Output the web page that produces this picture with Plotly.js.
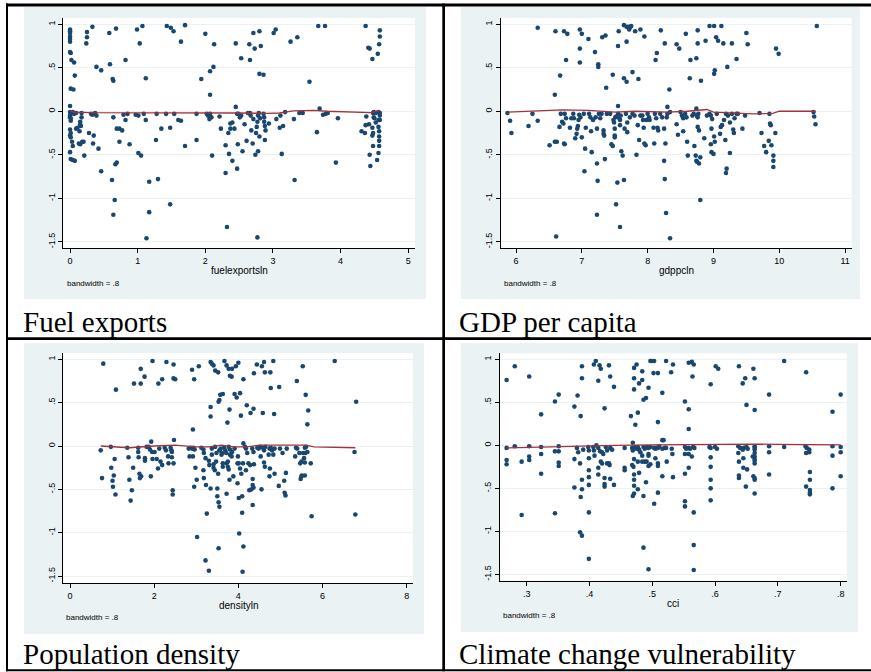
<!DOCTYPE html>
<html>
<head>
<meta charset="utf-8">
<script src="https://cdn.plot.ly/plotly-3.0.1.min.js"></script>
<style>
  html, body { margin: 0; padding: 0; background: #ffffff; }
  #chart { width: 871px; height: 672px; }
</style>
</head>
<body>
<div id="chart"></div>
<script>
// ---------- labels ----------
const captions = ["Fuel exports", "GDP per capita", "Population density", "Climate change vulnerability"];
const xVarNames = ["fuelexportsln", "gdppcln", "densityln", "cci"];
const noteText = "bandwidth = .8";

// ---------- tick labels ----------
const yTickVals = [-1.5, -1, -0.5, 0, 0.5, 1];
const yTickText = ["-1.5", "-1", "-.5", "0", ".5", "1"];
const fuelTickVals = [0, 1, 2, 3, 4, 5];
const gdpTickVals = [6, 7, 8, 9, 10, 11];
const densTickVals = [0, 2, 4, 6, 8];
const cciTickVals = [0.3, 0.4, 0.5, 0.6, 0.7, 0.8];
const cciTickText = [".3", ".4", ".5", ".6", ".7", ".8"];

// ---------- residuals vs. fuelexportsln ----------
const fuelPts = [
  [0,.94],[0,.92],[0,.90],[0,.86],[0,.83],[0,.80],[0,.68],[.01,.67],[.02,.59],[.06,.56],[.07,.41],[.01,.26],[.05,.25],[0,.06],
  [.25,.91],[.25,.85],[.24,.78],[.33,.97],[.39,.51],[.46,.47],[.58,.90],[.59,.54],[.63,.37],[.64,.35],[.68,.95],[.82,.59],[.99,.94],[1.03,.78],[1.07,.98],[1.12,.38],
  [1.43,.98],[1.49,.96],[1.53,.92],[1.64,.80],[1.70,.99],[1.94,.37],[2.0,.89],[2.07,.46],[2.07,.19],[2.12,.51],[2.13,.77],[2.45,.78],[2.53,.61],[2.65,.77],[2.66,.59],
  [2.71,.90],[2.73,.72],[2.80,.92],[2.80,.43],[2.82,.75],[2.86,.42],[3.01,.90],[3.04,.94],[3.26,.80],[3.36,.85],[3.54,.34],[3.67,.98],[3.77,.98],[4.37,.98],[4.41,.73],
  [4.43,.72],[4.47,.60],[4.55,.66],[4.57,.77],[4.58,.86],[4.58,.93],
  [0,-.01],[.01,-.03],[0,-.05],[0,-.07],[.01,-.08],[.01,-.11],[0,-.21],[.01,-.25],[0,-.28],[.01,-.30],[.03,-.35],[.04,-.40],[0,-.47],[.01,-.55],[.04,-.56],[.07,-.57],
  [.04,-.01],[.06,-.03],[.09,-.02],[.17,-.02],[.17,-.07],[.15,-.12],[.15,-.15],[.11,-.19],[.09,-.20],[.16,-.17],[.14,-.23],[.13,-.37],[.15,-.38],[.18,-.35],[.20,-.35],
  [.21,-.51],[.28,-.25],[.31,-.03],[.33,-.04],[.35,-.28],[.34,-.37],[.37,-.02],[.39,-.05],[.42,-.43],[.46,-.69],[.62,-.79],[.64,-.07],[.66,-1.02],[.64,-1.19],[.67,-.61],
  [.69,-.59],[.69,-.20],[.73,-.20],[.77,-.22],[.73,-.35],[.79,-.04],[.82,-.10],[.85,-.03],[.88,-.38],[.97,-.04],[1.01,-.05],[1.01,-.48],[1.05,-.51],[1.09,-.03],[1.12,-.10],
  [1.17,-.81],[1.17,-1.16],[1.13,-1.46],[1.27,-.33],[1.28,-.03],[1.30,-.78],[1.35,-.20],[1.42,-.03],[1.48,-.19],[1.48,-1.07],[1.54,-.03],[1.60,-.10],[1.64,-.11],[1.70,-.40],
  [1.87,-.03],[1.87,-.33],[2.02,-.03],[2.04,-.05],[2.06,-.09],[2.07,-.03],[2.09,-.07],[2.10,-.51],[2.21,-.06],[2.23,-.20],[2.30,-.39],[2.30,-.71],[2.32,-1.33],[2.34,-.25],
  [2.35,-.49],[2.37,-.14],[2.37,-.20],[2.40,-.13],[2.40,-.57],[2.43,-.20],[2.45,.05],[2.47,-.03],[2.47,-.66],[2.48,-.38],[2.49,-.03],[2.51,-.07],[2.53,-.05],[2.55,-.46],
  [2.58,-.15],[2.61,-.34],[2.63,-.02],[2.66,-.02],[2.67,-.05],[2.68,-.22],[2.70,-.37],[2.71,-.09],[2.74,-.50],[2.75,-.25],[2.76,-.18],[2.77,-.12],[2.78,-.05],[2.79,-.02],
  [2.80,-.29],[2.81,-.08],[2.78,-.46],[2.77,-1.45],[2.86,-.03],[2.87,-.07],[2.87,-.12],[2.88,-.17],[2.89,-.22],[2.88,-.33],[2.94,-.14],[3.05,-.09],[3.10,-.19],[3.11,-.05],
  [3.13,-.49],[3.15,-.17],[3.18,-.01],[3.31,-.09],[3.32,-.79],[3.39,-.02],[3.44,-.02],[3.65,-.24],[3.69,.03],[3.74,-.04],[3.78,-.03],[3.81,-.02],[3.93,-.59],[3.96,-.08],
  [4.31,-.23],[4.36,-.25],[4.38,-.06],[4.37,-.16],[4.42,-.15],[4.48,-.02],[4.49,-.01],[4.47,-.19],[4.48,-.25],[4.47,-.28],[4.48,-.40],[4.43,-.50],[4.44,-.63],[4.49,-.07],
  [4.50,-.08],[4.52,-.13],[4.52,-.02],[4.54,-.56],[4.56,-.10],[4.56,-.01],[4.56,-.18],[4.57,-.23],[4.57,-.29],[4.57,-.34],[4.57,-.40],[4.56,-.48],[4.58,-.02],[4.58,-.05],[4.58,-.10]
];
const fuelLowX = [0, 0.05, 0.3, 1, 1.5, 2, 2.5, 2.9, 3.1, 3.3, 3.6, 3.8, 4.1, 4.45, 4.58];
const fuelLowY = [0.01, -0.01, -0.015, -0.015, -0.015, -0.02, -0.02, -0.025, -0.02, 0.005, 0.01, 0.0, -0.01, -0.015, 0.01];

// ---------- residuals vs. gdppcln ----------
const gdpPts = [
  [6.33,.96],[6.6,.92],[6.73,.92],[6.78,.89],[6.76,.59],[6.67,.41],[6.59,.19],[6.97,.94],[7.0,.89],[6.97,.72],[6.97,.56],[7.1,.83],[7.2,.68],[7.25,.54],[7.25,.51],
  [7.31,.85],[7.36,.87],[7.37,.27],[7.47,.42],[7.55,.75],[7.56,.92],[7.64,.99],[7.68,.97],[7.71,.97],[7.72,.94],[7.74,.97],[7.75,.98],[7.68,.8],[7.64,.38],[7.68,.34],
  [7.77,.45],[7.81,.92],[7.86,.37],[7.89,.94],[7.95,.86],[8.12,.59],[8.14,.67],[8.2,.93],[8.26,.78],[8.33,.25],[8.3,.05],[8.44,.77],[8.48,.72],[8.58,.89],[8.65,.59],
  [8.64,.38],[8.74,.61],[8.76,.78],[8.76,.93],[8.81,.35],[8.88,.81],[8.94,.98],[9.01,.98],[9.01,.43],[9.02,.47],[9.04,.85],[9.07,.81],[9.12,.98],[9.15,.78],[9.21,.51],
  [9.28,.78],[9.35,.6],[9.5,.9],[9.52,.77],[9.95,.72],[9.99,.66],[10.57,.98],
  [5.87,-.02],[5.91,-.11],[5.93,-.25],[6.19,-.17],[6.25,-.03],[6.33,-.11],[6.51,-.39],[6.59,-.35],[6.62,-.35],[6.61,-1.44],[6.66,-.18],[6.68,-.03],[6.70,-.12],[6.72,-.14],
  [6.73,-.37],[6.74,-.38],[6.74,-.03],[6.76,-.08],[6.82,-.19],[6.84,-.08],[6.87,-.03],[6.88,-.08],[6.90,-.31],[6.92,-.26],[6.93,-.20],[6.94,-.17],[6.95,-.10],[6.96,-.04],
  [6.98,-.07],[7.00,-.30],[7.03,-.03],[7.05,-.43],[7.04,-.69],[7.06,-.19],[7.11,-.03],[7.13,-.07],[7.14,-.23],[7.15,-.47],[7.17,-.10],[7.21,-.07],[7.23,-.20],[7.23,-.60],
  [7.24,-.80],[7.23,-1.19],[7.26,-.03],[7.28,-.08],[7.30,-.03],[7.33,-.22],[7.33,-.26],[7.34,-.28],[7.35,-.55],[7.38,-.03],[7.43,-.03],[7.45,-.38],[7.47,-.40],[7.48,-.10],
  [7.49,-.13],[7.50,-.20],[7.50,-.28],[7.50,-.30],[7.51,-.07],[7.52,-.06],[7.52,-1.07],[7.54,-.82],[7.55,.06],[7.55,-.03],[7.57,-.08],[7.58,-.10],[7.59,-.05],[7.58,-1.33],
  [7.58,-.16],[7.60,-.46],[7.62,-.51],[7.64,-.79],[7.65,-.20],[7.67,-.03],[7.69,-.13],[7.69,-.24],[7.73,-.07],[7.77,-.03],[7.80,-.05],[7.83,-.50],[7.85,-.16],[7.87,-.33],
  [7.89,-.05],[7.92,-.05],[7.93,-.10],[7.94,-.19],[7.95,-.37],[7.97,-.39],[7.98,-.10],[8.00,-.03],[8.02,-.07],[8.03,-.10],[8.09,-.19],[8.10,-.37],[8.11,-.03],[8.13,-.08],
  [8.15,-.19],[8.16,-.22],[8.19,-.03],[8.22,-.07],[8.25,-.20],[8.25,-.57],[8.26,-.78],[8.27,-.37],[8.28,-1.17],[8.29,-.07],[8.30,-.03],[8.34,-1.46],[8.34,-.01],[8.44,-.15],
  [8.46,-.27],[8.50,-.01],[8.52,-.05],[8.54,-.08],[8.54,-.23],[8.57,-.03],[8.59,-.07],[8.60,-.35],[8.61,-.51],[8.68,-.05],[8.70,-.03],[8.71,-.40],[8.73,-.51],[8.74,-.57],
  [8.74,.03],[8.75,-.05],[8.76,-.07],[8.77,-.03],[8.76,-.18],[8.78,-.22],[8.75,-.58],[8.78,-.60],[8.80,-.53],[8.80,-1.02],[8.86,-.31],[8.90,-.05],[8.94,-.03],[8.96,-.05],
  [8.98,-.09],[8.97,-.20],[8.96,-.38],[8.97,-.47],[9.00,-.49],[9.01,-.29],[9.02,-.35],[9.05,-.03],[9.10,-.26],[9.11,-.18],[9.13,-.16],[9.16,-.10],[9.18,-.33],[9.19,-.03],
  [9.19,-.71],[9.20,-.66],[9.22,-.05],[9.25,-.48],[9.25,-.13],[9.28,-.03],[9.30,-.21],[9.31,-.25],[9.32,-.08],[9.35,-.03],[9.37,-.03],[9.44,-.20],[9.48,-.05],[9.70,-.02],
  [9.73,-.25],[9.77,-.40],[9.80,-.47],[9.84,-.34],[9.85,-.03],[9.86,-.14],[9.87,-.16],[9.88,-.39],[9.91,-.51],[9.91,-.57],[9.91,-.64],[9.94,-.25],[10.52,-.01],[10.53,-.06],
  [10.55,-.15]
];
const gdpLowX = [5.87, 6.3, 6.7, 7.1, 7.3, 7.5, 7.8, 8.1, 8.3, 8.6, 8.9, 9.0, 9.3, 9.6, 9.9, 10.0, 10.3, 10.55];
const gdpLowY = [-0.01, 0.0, 0.015, 0.01, 0.0, -0.01, 0.0, -0.005, -0.01, 0.0, 0.02, -0.01, -0.02, -0.03, -0.025, 0.0, 0.0, 0.0];

// ---------- residuals vs. densityln ----------
const densPts = [
  [.79,.95],[1.09,.65],[1.52,.72],[1.68,.72],[1.68,.89],[1.77,.80],[1.96,.98],[2.10,.72],[2.19,.77],[2.29,.97],[2.46,.94],[2.46,.78],[2.50,.77],[2.90,.88],[2.95,.77],
  [3.06,.92],[2.92,.19],[3.34,.97],[3.37,.95],[3.41,.93],[3.45,.87],[3.52,.85],[3.34,.45],[3.34,.34],[3.55,.53],[3.57,.59],[3.63,.60],[3.53,.51],[3.67,.98],[3.72,.93],
  [3.77,.89],[3.80,.81],[3.84,.80],[3.85,.89],[3.79,.42],[3.74,.27],[3.91,.60],[3.96,.56],[3.94,.92],[4.00,.96],[4.04,.61],[4.06,.35],[4.12,.77],[4.20,.47],[4.29,.38],
  [4.36,.43],[4.37,.84],[4.44,.94],[4.56,.92],[4.61,.97],[4.63,.85],[4.58,.38],[4.76,.85],[4.77,.67],[4.83,.98],[4.85,.37],[4.97,.68],[5.39,.75],[5.53,.92],[5.60,.59],
  [5.66,.41],[5.64,.25],[6.29,.98],[6.80,.51],
  [.73,-.05],[.76,-.37],[.97,-.01],[.98,-.25],[1.01,-.40],[1.02,-.47],[1.04,-.34],[1.06,-.15],[1.08,-.56],[1.36,-.02],[1.39,-.13],[1.41,-.39],[1.44,-.63],[1.47,-.51],
  [1.50,-.25],[1.62,-.02],[1.62,-.07],[1.63,-.13],[1.65,-.32],[1.66,-.37],[1.69,-.35],[1.78,-.14],[1.78,-.17],[1.82,-.01],[1.87,-.01],[1.92,-.35],[1.90,-.04],[1.95,-.07],
  [1.93,.05],[1.96,-.15],[2.01,-.07],[2.06,-.15],[2.09,-.26],[2.12,-.03],[2.15,-.18],[2.19,-.22],[2.25,-.02],[2.28,-.05],[2.33,-.12],[2.34,-.20],[2.39,-.02],[2.41,-.05],
  [2.42,-.07],[2.42,-.13],[2.44,-.51],[2.44,-.56],[2.47,.07],[2.46,-.20],[2.82,-.03],[2.87,-.02],[2.90,-.03],[2.93,-.02],[2.96,-.04],[2.84,-.12],[2.92,-.12],[2.95,-.47],
  [2.98,-.25],[3.01,-.39],[3.02,-1.05],[3.12,-.02],[3.17,-.04],[3.18,-.08],[3.17,-.28],[3.18,-.37],[3.22,-.14],[3.23,-.45],[3.25,-.78],[3.22,-1.32],[3.30,-1.44],[3.30,-.17],
  [3.31,-.22],[3.34,-.49],[3.37,-.03],[3.37,-.10],[3.41,-.21],[3.41,-.25],[3.44,-.28],[3.45,-.01],[3.48,-.08],[3.47,-.18],[3.50,-.49],[3.52,-.32],[3.50,-.58],[3.53,-.65],
  [3.55,-.70],[3.53,-1.18],[3.55,-.05],[3.58,-.03],[3.60,-.10],[3.61,-.08],[3.63,-.20],[3.63,-.24],[3.66,-.02],[3.69,-.05],[3.71,-.08],[3.72,-.20],[3.72,-.55],[3.75,-.18],
  [3.75,-.24],[3.77,-.27],[3.77,-.01],[3.80,-.04],[3.79,-.39],[3.80,-.10],[3.84,-.12],[3.85,-.07],[3.88,-.35],[3.91,-.03],[3.98,-.43],[3.98,-.20],[4.01,-.20],[3.99,-.12],
  [4.01,-.60],[4.02,-1.01],[4.04,-.26],[4.07,-.32],[4.09,-.58],[4.09,-.77],[4.11,-.20],[4.12,.03],[4.12,-1.16],[4.10,-1.45],[4.16,-.01],[4.18,-.03],[4.18,-.28],[4.21,-.08],
  [4.24,-.20],[4.28,-.22],[4.26,-.51],[4.31,-.50],[4.33,-.03],[4.36,-.07],[4.34,-.38],[4.34,-.45],[4.36,-.48],[4.34,-.68],[4.37,-.21],[4.45,-.02],[4.48,-.03],[4.52,-.01],
  [4.53,-.12],[4.55,-.50],[4.58,-.02],[4.61,-.05],[4.64,-.01],[4.61,-.19],[4.63,-.24],[4.72,-.10],[4.74,-.03],[4.77,-.02],[4.75,-.26],[4.74,-.35],[4.80,-.05],[4.83,-.10],
  [4.86,-.03],[4.86,-.32],[4.96,-.46],[4.99,-.03],[5.05,-.08],[5.09,-.40],[5.10,-.54],[5.12,-.57],[5.13,-.31],[5.15,-.03],[5.35,-.12],[5.37,-.02],[5.40,-.03],[5.45,-.08],
  [5.47,-.20],[5.50,-.18],[5.48,-.38],[5.50,-.35],[5.51,-.34],[5.58,-.34],[5.54,-.08],[5.59,-.08],[5.64,-.07],[5.56,-.14],[5.58,-.02],[5.61,-.01],[5.58,-.19],[5.72,-.20],
  [5.74,-.81],[6.76,-.07],[6.78,-.79]
];
const densLowX = [0.73, 1.0, 1.4, 2.0, 2.5, 3.0, 3.3, 3.6, 3.9, 4.2, 4.5, 5.0, 5.6, 5.8, 6.3, 6.78];
const densLowY = [0.0, -0.01, -0.02, 0.0, 0.01, -0.01, -0.01, 0.01, -0.01, -0.01, 0.01, 0.01, 0.01, -0.01, -0.015, -0.02];

// ---------- residuals vs. cci ----------
const cciPts = [
  [.268,.76],[.281,.92],[.304,.80],[.323,.36],[.345,.51],[.351,.59],[.376,.45],[.381,.58],[.386,.34],[.388,.92],[.388,.78],[.407,.94],[.41,.98],[.416,.93],[.418,.89],
  [.414,.75],[.424,.43],[.431,.93],[.433,.80],[.439,.68],[.466,.34],[.471,.90],[.475,.94],[.471,.78],[.471,.65],[.473,.24],[.477,.38],[.479,.72],[.484,.86],[.484,.76],
  [.486,.53],[.49,.55],[.494,.67],[.497,.98],[.499,.98],[.503,.98],[.502,.84],[.509,.84],[.509,.27],[.516,.61],[.522,.98],[.53,.85],[.533,.94],[.552,.51],[.558,.96],
  [.563,.97],[.566,.94],[.558,.42],[.558,.19],[.564,.80],[.593,.71],[.601,.92],[.605,.89],[.638,.92],[.644,.72],[.648,.78],[.65,.47],[.661,.89],[.663,.78],[.663,.41],
  [.686,.59],[.71,.98],[.745,.85],[.787,.39],[.80,.59],
  [.268,-.03],[.268,-.17],[.268,-.22],[.281,-.01],[.292,-.19],[.292,-.81],[.304,-.01],[.304,-.13],[.304,-.17],[.323,-.02],[.323,-.10],[.323,-.33],[.345,-.07],[.345,-.79],
  [.351,-.01],[.351,-.07],[.351,-.20],[.351,-.24],[.376,-.16],[.376,-.49],[.38,-.03],[.382,-.08],[.385,-.21],[.386,-.60],[.385,-1.01],[.388,-1.05],[.388,-.40],[.388,-.51],
  [.39,-.05],[.398,-.02],[.399,-.06],[.399,-.15],[.399,-.29],[.399,-.37],[.399,-.46],[.399,-.78],[.399,-1.32],[.406,-.02],[.407,-.06],[.408,-.12],[.411,0],[.414,-.03],
  [.417,-.07],[.414,-.26],[.414,-.34],[.418,-.19],[.42,-.21],[.42,-.08],[.422,-.10],[.424,-.38],[.424,-.45],[.424,-.48],[.426,-.02],[.428,-.06],[.428,-.21],[.431,-.21],
  [.432,-.23],[.433,-.03],[.433,-.39],[.436,-.05],[.439,-.46],[.456,-.03],[.456,-.26],[.456,-.29],[.468,-.03],[.469,-.06],[.468,-.23],[.47,-.25],[.469,.03],[.471,-.16],
  [.471,-.34],[.471,-.40],[.471,-.47],[.469,-.59],[.471,-.56],[.473,-.02],[.475,-.04],[.477,-.02],[.479,-.05],[.477,-.19],[.477,-.51],[.479,-.32],[.481,-.08],[.484,-.12],
  [.484,-.19],[.486,-.02],[.488,-.04],[.486,-.59],[.486,-1.19],[.488,-.19],[.491,-.19],[.49,-.43],[.492,-.02],[.494,-.03],[.497,-.02],[.494,-.10],[.494,-.12],[.494,-.24],
  [.497,-.22],[.494,-1.44],[.503,-.03],[.505,-.04],[.507,-.03],[.503,-.68],[.505,-.15],[.509,-.03],[.511,-.01],[.509,-.21],[.509,-.24],[.509,-.55],[.516,.06],[.518,.06],
  [.516,-.04],[.52,-.03],[.522,-.03],[.516,-.36],[.523,-.19],[.531,-.04],[.532,-.10],[.533,-.37],[.552,-.02],[.554,-.04],[.552,-.10],[.552,-.33],[.552,-.65],[.552,-.71],
  [.558,-.03],[.56,-.04],[.558,-.10],[.558,-.26],[.563,-.13],[.565,-.02],[.567,-.03],[.566,-.78],[.566,-1.16],[.566,-1.45],[.591,-.02],[.593,-.03],[.593,-.14],[.593,-.25],
  [.593,-.40],[.593,-.50],[.593,-.64],[.60,-.02],[.603,-.04],[.637,-.01],[.64,-.03],[.637,-.09],[.638,-.19],[.638,-.35],[.638,-.38],[.644,-.05],[.646,-.03],[.65,-.02],
  [.645,-.15],[.645,-.26],[.649,-.48],[.651,-.28],[.652,-.04],[.663,-.01],[.663,-.03],[.663,-.05],[.663,-.09],[.663,-.13],[.663,-.16],[.663,-.18],[.663,-.21],[.661,-.36],
  [.663,-.38],[.663,-.40],[.663,-.56],[.66,-.13],[.686,-.01],[.686,-.08],[.686,-.34],[.71,-.02],[.744,-.01],[.746,-.03],[.745,-.09],[.745,-.48],[.75,-.05],[.75,-.08],
  [.751,-.31],[.751,-.40],[.751,-.52],[.751,-.55],[.751,-.57],[.787,-.01],[.787,-.12],[.787,-.50],[.80,-.02],[.80,-.08],[.80,-.36]
];
const cciLowX = [0.268, 0.32, 0.38, 0.44, 0.5, 0.55, 0.6, 0.66, 0.7, 0.75, 0.8];
const cciLowY = [-0.03, -0.02, -0.015, 0.0, 0.005, 0.01, 0.01, 0.015, 0.01, 0.005, 0.005];

// ---------- page geometry (pixels from the top-left corner) ----------
const W = 871, H = 672;
const fx = v => v / W;         // horizontal pixel -> paper fraction
const fy = v => 1 - v / H;     // vertical pixel -> paper fraction

const panels = [
  { pts: fuelPts, lowX: fuelLowX, lowY: fuelLowY, ticks: fuelTickVals, tickText: null,
    plot: [63.3, 18, 415, 248], bg: [24, 7, 426, 299], xr: [-0.1, 5.1], yr: [-1.572, 1.072],
    title: [239, 270.5], note: [66, 283.8], cap: [21.5, 321.7] },
  { pts: gdpPts, lowX: gdpLowX, lowY: gdpLowY, ticks: gdpTickVals, tickText: null,
    plot: [501, 18, 851.7, 248], bg: [461, 7, 860, 299], xr: [5.772, 11.1], yr: [-1.572, 1.072],
    title: [676.7, 270.5], note: [502.7, 283.8], cap: [457.5, 321.7] },
  { pts: densPts, lowX: densLowX, lowY: densLowY, ticks: densTickVals, tickText: null,
    plot: [63.3, 353, 413, 582.7], bg: [24, 343, 424, 634], xr: [-0.16, 8.15], yr: [-1.577, 1.073],
    title: [238.7, 605], note: [65.3, 617.8], cap: [21.5, 653.5] },
  { pts: cciPts, lowX: cciLowX, lowY: cciLowY, ticks: cciTickVals, tickText: cciTickText,
    plot: [500, 353.3, 846.7, 580.7], bg: [461, 343, 858, 632], xr: [0.2575, 0.8096], yr: [-1.574, 1.07],
    title: [673.3, 603.2], note: [501.7, 615.5], cap: [457.5, 653.5] }
];

const NAVY = '#1a476f';
const MAROON = '#a3333b';
const GRID = '#eaf2f3';
const SANS = 'Liberation Sans, Arial, sans-serif';
const SERIF = 'Liberation Serif, Times New Roman, serif';

const traces = [];
const shapes = [];
const annotations = [];
const layout = {
  width: W, height: H,
  margin: { l: 0, r: 0, t: 0, b: 0 },
  paper_bgcolor: '#ffffff',
  plot_bgcolor: 'rgba(0,0,0,0)',
  showlegend: false,
  font: { family: SANS, color: '#000' }
};

panels.forEach((p, i) => {
  const s = i === 0 ? '' : String(i + 1);
  const xa = 'x' + s, ya = 'y' + s;

  // graph region and white plot region
  shapes.push({ type: 'rect', xref: 'paper', yref: 'paper', layer: 'below',
    x0: fx(p.bg[0]), x1: fx(p.bg[2]), y0: fy(p.bg[3]), y1: fy(p.bg[1]),
    fillcolor: GRID, line: { width: 0 } });
  shapes.push({ type: 'rect', xref: 'paper', yref: 'paper', layer: 'below',
    x0: fx(p.plot[0]), x1: fx(p.plot[2]), y0: fy(p.plot[3]), y1: fy(p.plot[1]),
    fillcolor: '#ffffff', line: { width: 0 } });

  layout['xaxis' + s] = {
    domain: [fx(p.plot[0]), fx(p.plot[2])], range: p.xr, anchor: ya,
    tickmode: 'array', tickvals: p.ticks, ticktext: p.tickText || p.ticks.map(String),
    showline: true, linecolor: '#000', linewidth: 1, mirror: false,
    ticks: 'outside', ticklen: 4, tickwidth: 1, tickcolor: '#000',
    showgrid: false, zeroline: false, fixedrange: true,
    tickfont: { family: SANS, size: 9, color: '#000' }
  };
  layout['yaxis' + s] = {
    domain: [fy(p.plot[3]), fy(p.plot[1])], range: p.yr, anchor: xa,
    tickmode: 'array', tickvals: yTickVals, ticktext: yTickText, tickangle: -90,
    showline: true, linecolor: '#000', linewidth: 1, mirror: false,
    ticks: 'outside', ticklen: 4, tickwidth: 1, tickcolor: '#000',
    showgrid: true, gridcolor: GRID, gridwidth: 1, zeroline: false, fixedrange: true,
    tickfont: { family: SANS, size: 9, color: '#000' }
  };

  traces.push({
    type: 'scatter', mode: 'markers', xaxis: xa, yaxis: ya,
    x: p.pts.map(d => d[0]), y: p.pts.map(d => d[1]),
    marker: { color: NAVY, size: 4.6, line: { width: 0 } },
    hoverinfo: 'x+y'
  });
  traces.push({
    type: 'scatter', mode: 'lines', xaxis: xa, yaxis: ya,
    x: p.lowX, y: p.lowY,
    line: { color: MAROON, width: 1.3 },
    hoverinfo: 'skip'
  });

  annotations.push({ xref: 'paper', yref: 'paper', x: fx(p.title[0]), y: fy(p.title[1]),
    xanchor: 'center', yanchor: 'middle', showarrow: false, text: xVarNames[i], borderpad: 0,
    font: { family: SANS, size: 10, color: '#000' } });
  annotations.push({ xref: 'paper', yref: 'paper', x: fx(p.note[0]), y: fy(p.note[1]),
    xanchor: 'left', yanchor: 'middle', showarrow: false, text: noteText, borderpad: 0,
    font: { family: SANS, size: 8, color: '#000' } });
  annotations.push({ xref: 'paper', yref: 'paper', x: fx(p.cap[0]), y: fy(p.cap[1]),
    xanchor: 'left', yanchor: 'middle', showarrow: false, text: captions[i], borderpad: 0,
    font: { family: SERIF, size: 29, color: '#000' } });
});

// table rules
const rules = [
  [6, 3.5, 871, 6.5],      // top
  [6, 3.5, 8, 671.3],      // left
  [442.3, 3.5, 445, 671.3],// middle vertical
  [6, 337.3, 871, 340],    // middle horizontal
  [6, 669.3, 871, 671.3]   // bottom
];
rules.forEach(r => shapes.push({ type: 'rect', xref: 'paper', yref: 'paper', layer: 'above',
  x0: fx(r[0]), x1: fx(r[2]), y0: fy(r[3]), y1: fy(r[1]),
  fillcolor: '#000', line: { width: 0 } }));

layout.shapes = shapes;
layout.annotations = annotations;

Plotly.newPlot('chart', traces, layout, { displayModeBar: false, staticPlot: true });
</script>
</body>
</html>
